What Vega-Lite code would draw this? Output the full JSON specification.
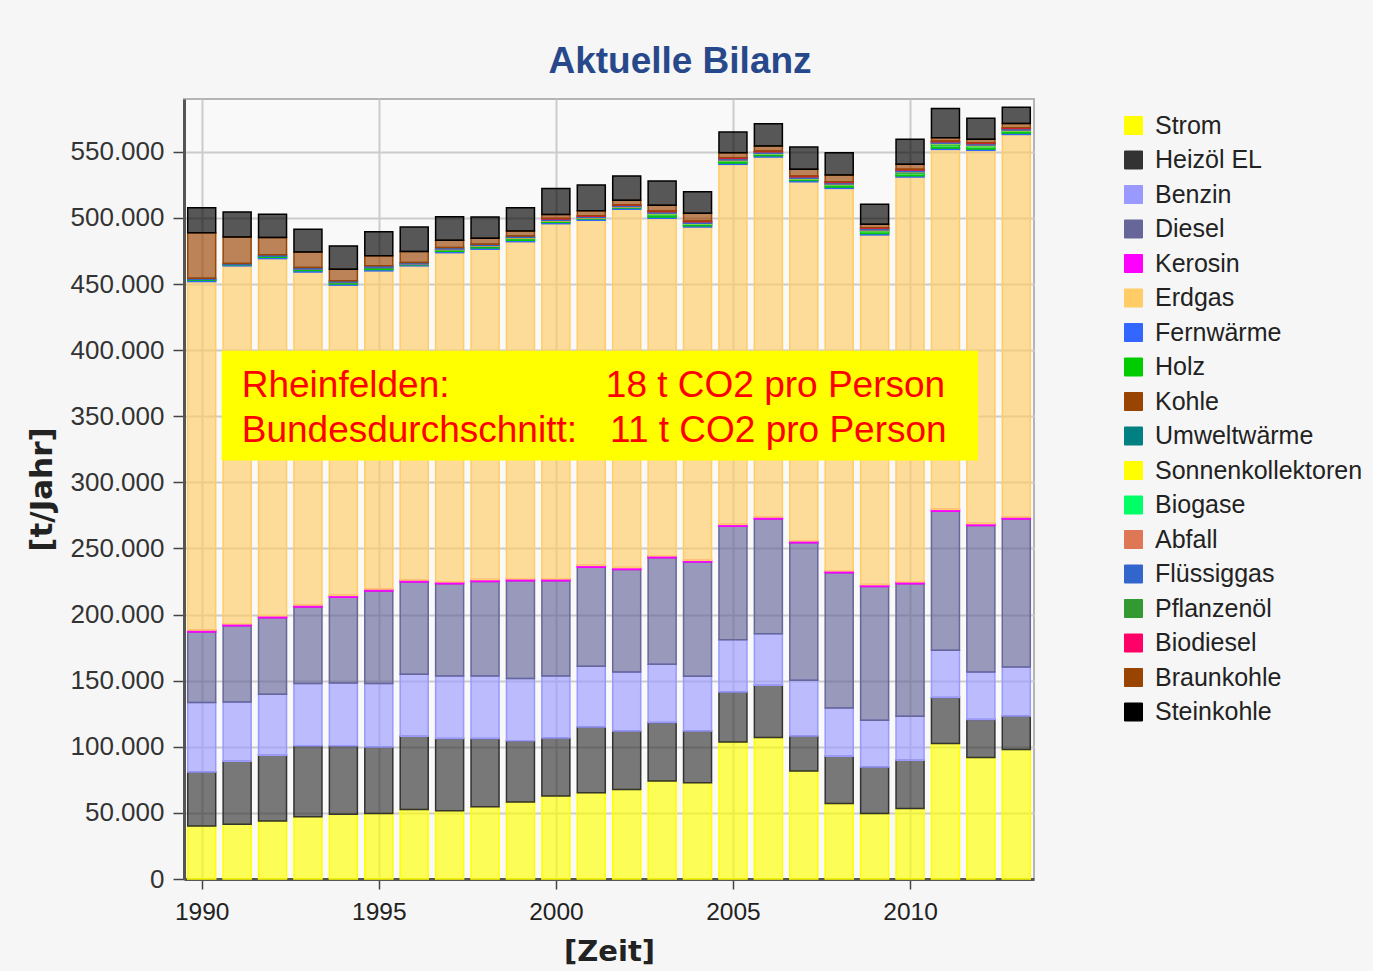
{
  "$schema": "https://vega.github.io/schema/vega-lite/v6.json",
  "width": 850,
  "height": 780,
  "autosize": "none",
  "padding": {"left": 184, "top": 99, "right": 339, "bottom": 92},
  "background": "#f6f6f6",
  "config": {
    "view": {"fill": "#f9f9f9", "stroke": "#b4b4b4", "strokeWidth": 2},
    "font": "Liberation Sans"
  },
  "title": {
    "text": "Aktuelle Bilanz",
    "font": "Liberation Sans",
    "fontSize": 37,
    "fontWeight": "bold",
    "color": "#27498b",
    "anchor": "middle",
    "frame": "group",
    "dx": 71,
    "dy": 36,
    "baseline": "alphabetic",
    "offset": 25
  },
  "layer": [
    {
      "data": {
        "values": [
          {"year": 1990, "Strom": 40000, "Heizöl EL": 41000, "Benzin": 52500, "Diesel": 53300, "Kerosin": 1500, "Erdgas": 263600, "Fernwärme": 1000, "Holz": 600, "Flüssiggas": 1000, "Braunkohle": 34400, "Steinkohle": 18900},
          {"year": 1991, "Strom": 41500, "Heizöl EL": 47600, "Benzin": 44800, "Diesel": 57700, "Kerosin": 1500, "Erdgas": 270700, "Fernwärme": 800, "Holz": 300, "Flüssiggas": 700, "Braunkohle": 20100, "Steinkohle": 18900},
          {"year": 1992, "Strom": 43800, "Heizöl EL": 49900, "Benzin": 46000, "Diesel": 58000, "Kerosin": 1500, "Erdgas": 270100, "Fernwärme": 1000, "Holz": 800, "Flüssiggas": 1000, "Braunkohle": 13100, "Steinkohle": 17700},
          {"year": 1993, "Strom": 47100, "Heizöl EL": 53600, "Benzin": 47100, "Diesel": 57900, "Kerosin": 1500, "Erdgas": 252000, "Fernwärme": 1000, "Holz": 1000, "Abfall": 300, "Flüssiggas": 1000, "Braunkohle": 11800, "Steinkohle": 17100},
          {"year": 1994, "Strom": 48900, "Heizöl EL": 51800, "Benzin": 47600, "Diesel": 64900, "Kerosin": 1500, "Erdgas": 234500, "Fernwärme": 1000, "Holz": 1000, "Abfall": 300, "Flüssiggas": 1000, "Braunkohle": 8800, "Steinkohle": 17600},
          {"year": 1995, "Strom": 49600, "Heizöl EL": 50300, "Benzin": 47900, "Diesel": 70000, "Kerosin": 1500, "Erdgas": 240700, "Fernwärme": 1000, "Holz": 1200, "Umweltwärme": 300, "Abfall": 300, "Flüssiggas": 1000, "Braunkohle": 7600, "Steinkohle": 18100},
          {"year": 1996, "Strom": 52600, "Heizöl EL": 55400, "Benzin": 46800, "Diesel": 69800, "Kerosin": 1500, "Erdgas": 237700, "Fernwärme": 800, "Holz": 500, "Abfall": 300, "Flüssiggas": 900, "Braunkohle": 8300, "Steinkohle": 18600},
          {"year": 1997, "Strom": 51600, "Heizöl EL": 54700, "Benzin": 47300, "Diesel": 69700, "Kerosin": 1500, "Erdgas": 249000, "Fernwärme": 1000, "Holz": 1000, "Umweltwärme": 300, "Sonnenkollektoren": 200, "Abfall": 300, "Flüssiggas": 1000, "Braunkohle": 5600, "Steinkohle": 17800},
          {"year": 1998, "Strom": 54600, "Heizöl EL": 51700, "Benzin": 47300, "Diesel": 71500, "Kerosin": 1500, "Erdgas": 249800, "Fernwärme": 1000, "Holz": 1000, "Umweltwärme": 300, "Sonnenkollektoren": 200, "Abfall": 300, "Flüssiggas": 1000, "Braunkohle": 4500, "Steinkohle": 16100},
          {"year": 1999, "Strom": 58200, "Heizöl EL": 46300, "Benzin": 47100, "Diesel": 74000, "Kerosin": 1500, "Erdgas": 255000, "Fernwärme": 1000, "Holz": 1500, "Umweltwärme": 300, "Sonnenkollektoren": 200, "Abfall": 300, "Flüssiggas": 1000, "Braunkohle": 3800, "Steinkohle": 17600},
          {"year": 2000, "Strom": 62700, "Heizöl EL": 44000, "Benzin": 46900, "Diesel": 72000, "Kerosin": 1500, "Erdgas": 268600, "Fernwärme": 1000, "Holz": 800, "Umweltwärme": 300, "Sonnenkollektoren": 200, "Abfall": 300, "Flüssiggas": 1000, "Biodiesel": 400, "Braunkohle": 3000, "Steinkohle": 19600},
          {"year": 2001, "Strom": 65200, "Heizöl EL": 49800, "Benzin": 45900, "Diesel": 75000, "Kerosin": 1500, "Erdgas": 260900, "Fernwärme": 1000, "Holz": 600, "Umweltwärme": 200, "Sonnenkollektoren": 100, "Abfall": 300, "Flüssiggas": 800, "Biodiesel": 300, "Braunkohle": 3800, "Steinkohle": 19600},
          {"year": 2002, "Strom": 67700, "Heizöl EL": 44300, "Benzin": 44600, "Diesel": 77500, "Kerosin": 1500, "Erdgas": 271000, "Fernwärme": 1000, "Holz": 600, "Umweltwärme": 200, "Sonnenkollektoren": 100, "Abfall": 300, "Flüssiggas": 800, "Biodiesel": 300, "Braunkohle": 3500, "Steinkohle": 18400},
          {"year": 2003, "Strom": 74200, "Heizöl EL": 44200, "Benzin": 44000, "Diesel": 80600, "Kerosin": 1500, "Erdgas": 255300, "Fernwärme": 1000, "Holz": 1900, "Umweltwärme": 300, "Sonnenkollektoren": 200, "Biogase": 200, "Abfall": 300, "Flüssiggas": 1000, "Pflanzenöl": 100, "Biodiesel": 500, "Braunkohle": 4300, "Steinkohle": 18400},
          {"year": 2004, "Strom": 72800, "Heizöl EL": 39200, "Benzin": 41300, "Diesel": 86400, "Kerosin": 1500, "Erdgas": 252000, "Fernwärme": 1000, "Holz": 900, "Umweltwärme": 300, "Sonnenkollektoren": 200, "Biogase": 200, "Abfall": 300, "Flüssiggas": 1000, "Pflanzenöl": 100, "Biodiesel": 500, "Braunkohle": 5800, "Steinkohle": 16300},
          {"year": 2005, "Strom": 103700, "Heizöl EL": 37800, "Benzin": 39500, "Diesel": 85900, "Kerosin": 1500, "Erdgas": 272200, "Fernwärme": 1000, "Holz": 1400, "Umweltwärme": 300, "Sonnenkollektoren": 200, "Biogase": 200, "Abfall": 300, "Flüssiggas": 1000, "Pflanzenöl": 100, "Biodiesel": 500, "Braunkohle": 3800, "Steinkohle": 15600},
          {"year": 2006, "Strom": 107000, "Heizöl EL": 39500, "Benzin": 39100, "Diesel": 86800, "Kerosin": 1500, "Erdgas": 272200, "Fernwärme": 1000, "Holz": 900, "Umweltwärme": 300, "Sonnenkollektoren": 200, "Biogase": 200, "Abfall": 300, "Flüssiggas": 1000, "Pflanzenöl": 100, "Biodiesel": 500, "Braunkohle": 3800, "Steinkohle": 16800},
          {"year": 2007, "Strom": 81600, "Heizöl EL": 26600, "Benzin": 42100, "Diesel": 104000, "Kerosin": 1500, "Erdgas": 271600, "Fernwärme": 1000, "Holz": 700, "Umweltwärme": 300, "Sonnenkollektoren": 200, "Biogase": 200, "Abfall": 300, "Flüssiggas": 1000, "Pflanzenöl": 100, "Biodiesel": 500, "Braunkohle": 5100, "Steinkohle": 16800},
          {"year": 2008, "Strom": 57200, "Heizöl EL": 35700, "Benzin": 36500, "Diesel": 102200, "Kerosin": 1500, "Erdgas": 289300, "Fernwärme": 1000, "Holz": 1400, "Umweltwärme": 300, "Sonnenkollektoren": 200, "Biogase": 200, "Abfall": 300, "Flüssiggas": 1000, "Pflanzenöl": 100, "Biodiesel": 500, "Braunkohle": 5100, "Steinkohle": 16800},
          {"year": 2009, "Strom": 49600, "Heizöl EL": 35200, "Benzin": 35300, "Diesel": 101200, "Kerosin": 1500, "Erdgas": 264400, "Fernwärme": 1000, "Holz": 1900, "Umweltwärme": 300, "Sonnenkollektoren": 200, "Biogase": 200, "Abfall": 300, "Flüssiggas": 1000, "Pflanzenöl": 100, "Biodiesel": 500, "Braunkohle": 2600, "Steinkohle": 15100},
          {"year": 2010, "Strom": 53400, "Heizöl EL": 36500, "Benzin": 33200, "Diesel": 100200, "Kerosin": 1500, "Erdgas": 306200, "Fernwärme": 1000, "Holz": 2200, "Umweltwärme": 300, "Sonnenkollektoren": 200, "Biogase": 200, "Abfall": 300, "Flüssiggas": 1000, "Pflanzenöl": 100, "Biodiesel": 500, "Braunkohle": 3800, "Steinkohle": 18900},
          {"year": 2011, "Strom": 102500, "Heizöl EL": 34700, "Benzin": 35800, "Diesel": 105200, "Kerosin": 1500, "Erdgas": 272200, "Fernwärme": 1000, "Holz": 2700, "Umweltwärme": 300, "Sonnenkollektoren": 200, "Biogase": 200, "Abfall": 300, "Flüssiggas": 1000, "Pflanzenöl": 100, "Biodiesel": 500, "Braunkohle": 2500, "Steinkohle": 22200},
          {"year": 2012, "Strom": 91900, "Heizöl EL": 28700, "Benzin": 36000, "Diesel": 110800, "Kerosin": 1500, "Erdgas": 282300, "Fernwärme": 1000, "Holz": 2100, "Umweltwärme": 300, "Sonnenkollektoren": 200, "Biogase": 200, "Abfall": 300, "Flüssiggas": 1000, "Pflanzenöl": 100, "Biodiesel": 500, "Braunkohle": 2600, "Steinkohle": 15900},
          {"year": 2013, "Strom": 98000, "Heizöl EL": 25300, "Benzin": 37100, "Diesel": 112000, "Kerosin": 1500, "Erdgas": 289300, "Fernwärme": 1000, "Holz": 1400, "Umweltwärme": 300, "Sonnenkollektoren": 200, "Biogase": 200, "Abfall": 300, "Flüssiggas": 1000, "Pflanzenöl": 100, "Biodiesel": 500, "Braunkohle": 3300, "Steinkohle": 12300}
        ]
      },
      "transform": [
        {"fold": ["Strom", "Heizöl EL", "Benzin", "Diesel", "Kerosin", "Erdgas", "Fernwärme", "Holz", "Kohle", "Umweltwärme", "Sonnenkollektoren", "Biogase", "Abfall", "Flüssiggas", "Pflanzenöl", "Biodiesel", "Braunkohle", "Steinkohle"], "as": ["carrier", "value"]},
        {"filter": "datum.value > 0"},
        {"calculate": "indexof(['Strom', 'Heizöl EL', 'Benzin', 'Diesel', 'Kerosin', 'Erdgas', 'Fernwärme', 'Holz', 'Kohle', 'Umweltwärme', 'Sonnenkollektoren', 'Biogase', 'Abfall', 'Flüssiggas', 'Pflanzenöl', 'Biodiesel', 'Braunkohle', 'Steinkohle'], datum.carrier)", "as": "rank"}
      ],
      "mark": {"type": "bar", "size": 28, "fillOpacity": 0.65, "strokeWidth": 1.5},
      "encoding": {
        "x": {
          "field": "year", "type": "quantitative",
          "scale": {"domain": [1989.5, 2013.5], "nice": false, "zero": false, "padding": 0},
          "axis": {
            "title": "[Zeit]", "titleFont": "DejaVu Sans", "titleFontSize": 29, "titleFontWeight": "bold", "titleColor": "#222", "titlePadding": 14,
            "values": [1990, 1995, 2000, 2005, 2010], "format": "d",
            "labelFont": "Liberation Sans", "labelFontSize": 24.5, "labelColor": "#222", "labelPadding": 11,
            "tickSize": 10, "tickColor": "#444", "tickWidth": 1.5,
            "domainColor": "#555", "domainWidth": 3,
            "gridColor": "#cccccc", "gridWidth": 2
          }
        },
        "y": {
          "field": "value", "type": "quantitative", "stack": "zero",
          "scale": {"domain": [0, 590000], "nice": false, "padding": 0},
          "axis": {
            "title": "[t/Jahr]", "titleFont": "DejaVu Sans", "titleFontSize": 31, "titleFontWeight": "bold", "titleColor": "#222", "titlePadding": 12,
            "values": [0, 50000, 100000, 150000, 200000, 250000, 300000, 350000, 400000, 450000, 500000, 550000],
            "labelExpr": "replace(format(datum.value, ','), ',', '.')",
            "labelFont": "Liberation Sans", "labelFontSize": 26, "labelColor": "#333", "labelPadding": 9,
            "tickSize": 11, "tickColor": "#444", "tickWidth": 1.5,
            "domainColor": "#555", "domainWidth": 3,
            "gridColor": "#cccccc", "gridWidth": 2
          }
        },
        "fill": {
          "field": "carrier", "type": "nominal",
          "scale": {
            "domain": ["Strom", "Heizöl EL", "Benzin", "Diesel", "Kerosin", "Erdgas", "Fernwärme", "Holz", "Kohle", "Umweltwärme", "Sonnenkollektoren", "Biogase", "Abfall", "Flüssiggas", "Pflanzenöl", "Biodiesel", "Braunkohle", "Steinkohle"],
            "range": ["#ffff00", "#333333", "#9999ff", "#666699", "#ff00ff", "#ffcc66", "#3366ff", "#00cc00", "#994400", "#008080", "#ffff00", "#00ff66", "#dd7755", "#3366cc", "#339933", "#ff0066", "#994400", "#000000"]
          },
          "legend": {
            "title": null, "orient": "none", "legendX": 937, "legendY": 14,
            "symbolType": "square", "symbolSize": 324, "symbolStrokeWidth": 1,
            "labelFont": "Liberation Sans", "labelFontSize": 25, "labelColor": "#222", "labelOffset": 9, "labelLimit": 300,
            "rowPadding": 8.5,
            "encode": {"symbols": {"update": {"fillOpacity": {"value": 1}}}}
          }
        },
        "stroke": {
          "field": "carrier", "type": "nominal",
          "scale": {
            "domain": ["Strom", "Heizöl EL", "Benzin", "Diesel", "Kerosin", "Erdgas", "Fernwärme", "Holz", "Kohle", "Umweltwärme", "Sonnenkollektoren", "Biogase", "Abfall", "Flüssiggas", "Pflanzenöl", "Biodiesel", "Braunkohle", "Steinkohle"],
            "range": ["#ffff00", "#333333", "#9999ff", "#666699", "#ff00ff", "#ffcc66", "#3366ff", "#00cc00", "#994400", "#008080", "#ffff00", "#00ff66", "#dd7755", "#3366cc", "#339933", "#ff0066", "#994400", "#000000"]
          },
          "legend": {
            "title": null, "orient": "none", "legendX": 937, "legendY": 14,
            "symbolType": "square", "symbolSize": 324, "symbolStrokeWidth": 1,
            "labelFont": "Liberation Sans", "labelFontSize": 25, "labelColor": "#222", "labelOffset": 9, "labelLimit": 300,
            "rowPadding": 8.5,
            "encode": {"symbols": {"update": {"fillOpacity": {"value": 1}}}}
          }
        },
        "order": {"field": "rank", "type": "quantitative"}
      }
    },
    {
      "data": {"values": [{"x1": 1990.56, "x2": 2011.92, "y1": 316500, "y2": 399500}]},
      "mark": {"type": "rect", "fill": "#ffff00"},
      "encoding": {
        "x": {"field": "x1", "type": "quantitative"},
        "x2": {"field": "x2"},
        "y": {"field": "y1", "type": "quantitative"},
        "y2": {"field": "y2"}
      }
    },
    {
      "data": {
        "values": [
          {"label": "Rheinfelden:", "x": 1991.13, "y": 364800},
          {"label": "18 t CO2 pro Person", "x": 2001.41, "y": 364800},
          {"label": "Bundesdurchschnitt:", "x": 1991.13, "y": 330800},
          {"label": "11 t CO2 pro Person", "x": 2001.53, "y": 330800}
        ]
      },
      "mark": {"type": "text", "align": "left", "baseline": "alphabetic", "font": "Liberation Sans", "fontSize": 37, "color": "#ff0000"},
      "encoding": {
        "x": {"field": "x", "type": "quantitative"},
        "y": {"field": "y", "type": "quantitative"},
        "text": {"field": "label"}
      }
    }
  ]
}
